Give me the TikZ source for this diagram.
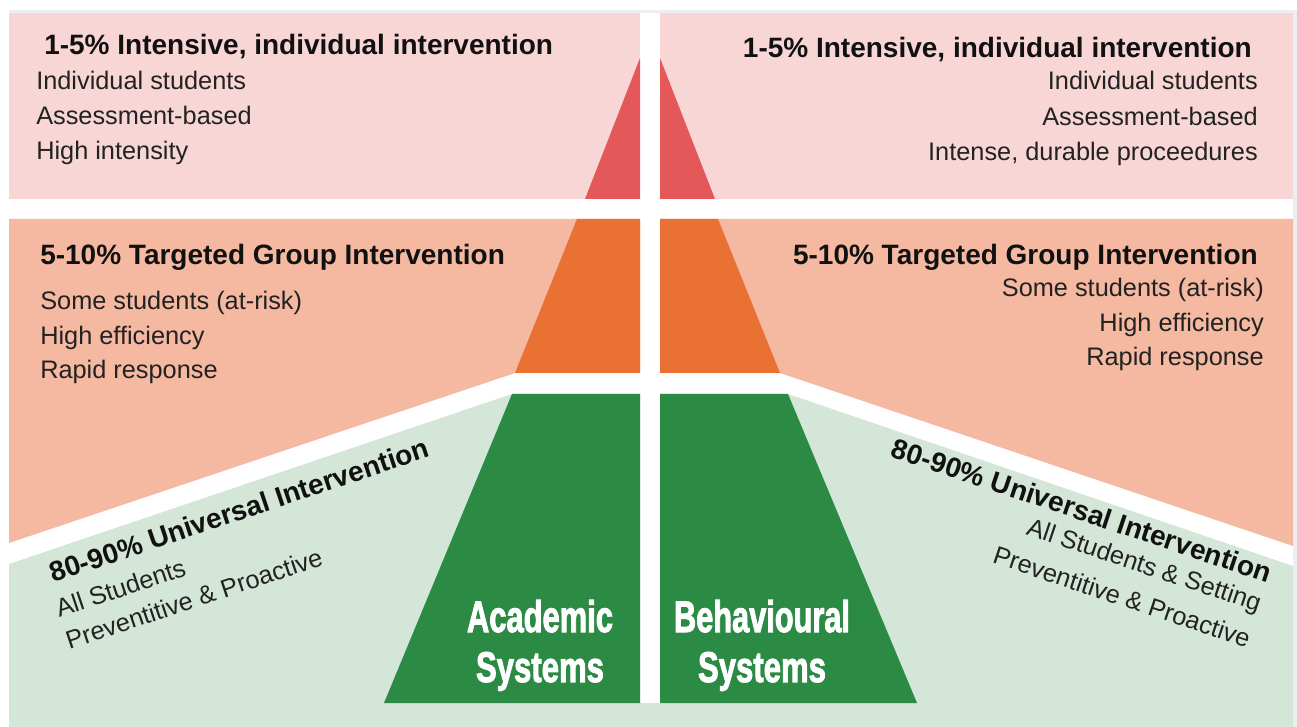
\documentclass[tikz,border=0pt]{standalone}
\usepackage{fontspec}
\setmainfont{Liberation Sans}
\newfontfamily\heavyfont[BoldFeatures={FakeBold=2.5}]{Liberation Sans}
\usepackage{graphicx}
\definecolor{frame}{HTML}{ECEEF1}
\definecolor{pinkbg}{HTML}{F9D6D6}
\definecolor{redtier}{HTML}{E5585A}
\definecolor{salmonbg}{HTML}{F5B8A0}
\definecolor{orangetier}{HTML}{EA7134}
\definecolor{greenbg}{HTML}{D3E6D8}
\definecolor{greentier}{HTML}{2B8A43}
\definecolor{ink}{HTML}{111111}
\definecolor{inksoft}{HTML}{222222}
\begin{document}
\begin{tikzpicture}[x=0.75pt,y=-0.75pt,
  head/.style={font=\fontsize{21}{25}\selectfont\bfseries, text=ink, inner sep=0},
  body/.style={font=\fontsize{19}{23}\selectfont, text=inksoft, inner sep=0},
  sys/.style={text=white, inner sep=0, anchor=base, font=\heavyfont\bfseries}]
\useasboundingbox (0,0) rectangle (1297,727);
\fill[white] (0,0) rectangle (1297,727);
% thin frame at top and right
\fill[frame] (9,10) rectangle (1297,13);
\fill[frame] (1293,10) rectangle (1297,727);

% background bands
\fill[pinkbg] (9,13) rectangle (640,199);
\fill[pinkbg] (660,13) rectangle (1293,199);
\fill[salmonbg] (9,219) -- (640,219) -- (640,373) -- (515,373) -- (9,543) -- cycle;
\fill[salmonbg] (660,219) -- (1293,219) -- (1293,546) -- (780,373) -- (660,373) -- cycle;
\fill[greenbg] (9,564) -- (512,394) -- (640,394) -- (640,703) -- (660,703) -- (660,394)
  -- (788,394) -- (1293,566) -- (1293,727) -- (9,727) -- cycle;

% pyramid tiers
\fill[redtier] (640,58) -- (640,199) -- (585,199) -- cycle;
\fill[redtier] (660,58) -- (715,199) -- (660,199) -- cycle;
\fill[orangetier] (577,219) -- (640,219) -- (640,373) -- (515,373) -- cycle;
\fill[orangetier] (660,219) -- (718,219) -- (780,373) -- (660,373) -- cycle;
\fill[greentier] (512,394) -- (640,394) -- (640,703) -- (384,703) -- cycle;
\fill[greentier] (660,394) -- (788,394) -- (917,703) -- (660,703) -- cycle;

% tier 3, left
\node[head, anchor=base west] (lthree) at (44,55) {1-5\% Intensive, individual intervention};
\node[body, anchor=base west] (lthreea) at (36,90) {Individual students};
\node[body, anchor=base west] (lthreeb) at (36,125) {Assessment-based};
\node[body, anchor=base west] (lthreec) at (36,160) {High intensity};
% tier 3, right
\node[head, anchor=base east] (rthree) at (1252,58) {1-5\% Intensive, individual intervention};
\node[body, anchor=base east] (rthreea) at (1258,90) {Individual students};
\node[body, anchor=base east] (rthreeb) at (1258,126) {Assessment-based};
\node[body, anchor=base east] (rthreec) at (1258,161) {Intense, durable proceedures};

% tier 2, left
\node[head, anchor=base west] (ltwo) at (40,265) {5-10\% Targeted Group Intervention};
\node[body, anchor=base west] (ltwoa) at (40,310) {Some students (at-risk)};
\node[body, anchor=base west] (ltwob) at (40,345) {High efficiency};
\node[body, anchor=base west] (ltwoc) at (40,379) {Rapid response};
% tier 2, right
\node[head, anchor=base east] (rtwo) at (1258,265) {5-10\% Targeted Group Intervention};
\node[body, anchor=base east] (rtwoa) at (1264,297) {Some students (at-risk)};
\node[body, anchor=base east] (rtwob) at (1264,332) {High efficiency};
\node[body, anchor=base east] (rtwoc) at (1264,366) {Rapid response};

% tier 1, slanted labels
\node[head, anchor=base west, rotate=18.5] (lone) at (53,583) {80-90\% Universal Intervention};
\node[body, anchor=base west, rotate=18.5] (lonea) at (59,618) {All Students};
\node[body, anchor=base west, rotate=18.5] (loneb) at (69,650) {Preventitive \& Proactive};
\node[head, anchor=base east, rotate=-18.5] (rone) at (1268,583) {80-90\% Universal Intervention};
\node[body, anchor=base east, rotate=-18.5] (ronea) at (1258,612) {All Students \& Setting};
\node[body, anchor=base east, rotate=-18.5] (roneb) at (1247,648) {Preventitive \& Proactive};

% system names
\node[sys] (acad) at (540,632) {\resizebox{109.5pt}{24pt}{Academic}};
\node[sys] (acadsys) at (540,682) {\resizebox{96pt}{22.5pt}{Systems}};
\node[sys] (behav) at (762,632) {\resizebox{132pt}{24pt}{Behavioural}};
\node[sys] (behavsys) at (762,682) {\resizebox{96pt}{22.5pt}{Systems}};
\end{tikzpicture}
\end{document}
